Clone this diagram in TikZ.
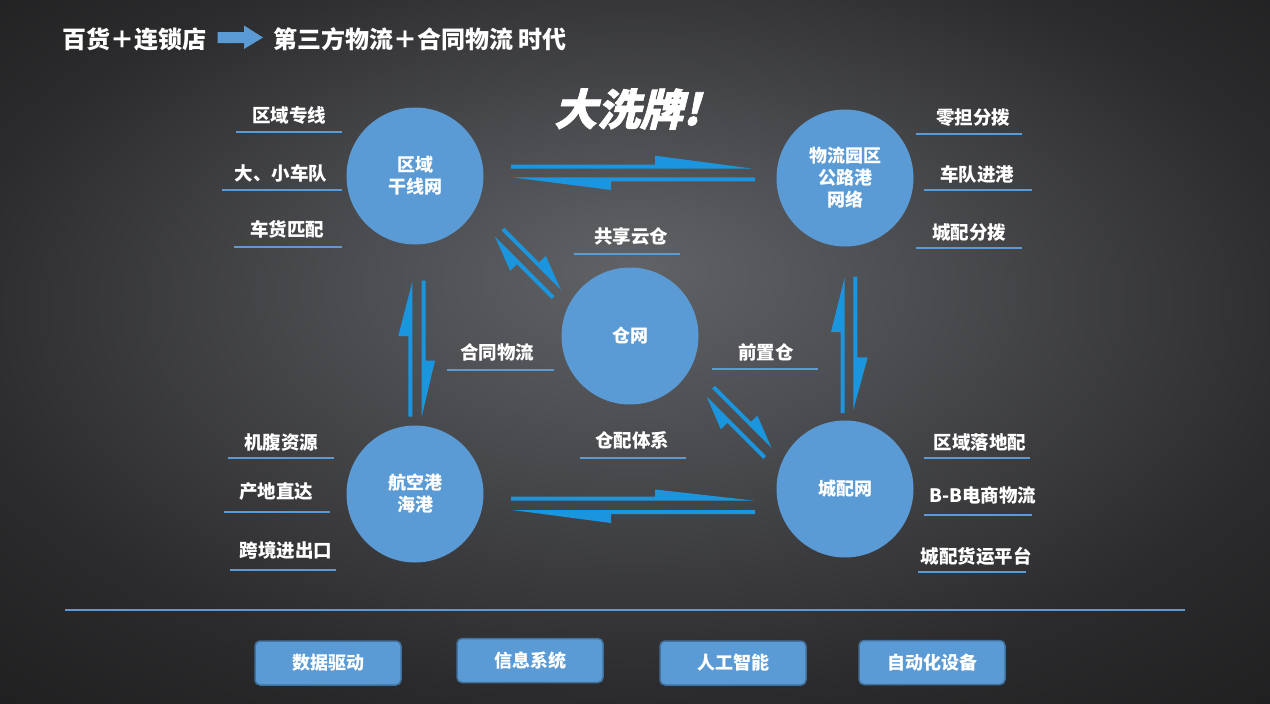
\documentclass[tikz,border=0pt]{standalone}
\usepackage{fontspec}
\newfontfamily\cjk{Noto Sans CJK SC}
\newfontfamily\brush{Noto Sans CJK SC}[FakeSlant=0.25,FakeBold=1.5]
\definecolor{circ}{HTML}{5B9BD5}
\definecolor{arr}{HTML}{1B96DE}
\definecolor{boxedge}{HTML}{41719C}
\definecolor{bgA}{HTML}{606266}
\definecolor{bgB}{HTML}{4A4B4E}
\definecolor{bgC}{HTML}{2B2B2D}
\definecolor{bgD}{HTML}{1C1C1D}
\definecolor{bgE}{HTML}{171718}
\pgfdeclareradialshading{bgshade}{\pgfpoint{0bp}{6bp}}{color(0bp)=(bgA); color(12bp)=(bgB); color(27bp)=(bgC); color(40bp)=(bgD); color(50bp)=(bgE)}
\tikzset{
  hub/.style={circle,fill=circ,minimum size=137pt,inner sep=0pt,text=white,align=center,font=\cjk\bfseries\fontsize{18}{22}\selectfont},
  lab/.style={text=white,inner sep=0pt,font=\cjk\bfseries\fontsize{18.5}{20}\selectfont},
  uline/.style={draw=circ,line width=1.6pt},
  harp/.style={fill=arr},
  tag/.style={rounded corners=5pt,fill=circ,draw=boxedge,line width=1.5pt,minimum width=146pt,minimum height=44pt,inner sep=0pt,text=white,font=\cjk\bfseries\fontsize{18}{20}\selectfont},
  ttl/.style={text=white,inner sep=0pt,anchor=west,font=\cjk\bfseries\fontsize{24}{26}\selectfont}
}
\begin{document}
\begin{tikzpicture}[x=1pt,y=-1pt]
\useasboundingbox (0,0) rectangle (1270,704);
\shade[shading=bgshade] (0,0) rectangle (1270,704);

% title
\node[ttl] (t1) at (62,39) {百货＋连锁店};
\fill[circ] (217.5,32) -- (244,32) -- (244,25.5) -- (263,37.5) -- (244,49) -- (244,43) -- (217.5,43) -- cycle;
\node[ttl] (t2) at (273,39) {第三方物流＋合同物流 时代};

\node[text=white,inner sep=0pt,font=\brush\bfseries\fontsize{43}{44}\selectfont] (shuffle) at (627,109) {大洗牌!};

% hubs
\node[hub] (c1) at (415,176) {区域\\干线网};
\node[hub] (c2) at (845,178) {物流园区\\公路港\\网络};
\node[hub] (c3) at (630,336) {仓网};
\node[hub] (c4) at (415,494) {航空港\\海港};
\node[hub] (c5) at (845,489) {城配网};

% harpoon arrows: top pair
\fill[harp] (511,164.7) -- (655,164.7) -- (655,155.7) -- (753,168.7) -- (511,168.7) -- cycle;
\fill[harp] (755,177.3) -- (755,181.3) -- (611,181.3) -- (611,190) -- (512,177.3) -- cycle;
% bottom pair
\fill[harp] (511,496.5) -- (655,496.5) -- (655,489.5) -- (753,500.5) -- (511,500.5) -- cycle;
\fill[harp] (755,510) -- (755,514) -- (611,514) -- (611,523) -- (512,510) -- cycle;
% left vertical pair
\fill[harp] (408.3,416.7) -- (412.3,416.7) -- (412.3,281.7) -- (398.3,336) -- (408.3,336) -- cycle;
\fill[harp] (421.7,280.7) -- (425.7,280.7) -- (425.7,360.7) -- (435,360.7) -- (421.7,416.7) -- cycle;
% right vertical pair
\fill[harp] (840.7,413) -- (844.7,413) -- (844.7,277.3) -- (831,332) -- (840.7,332) -- cycle;
\fill[harp] (853.3,276.7) -- (857.3,276.7) -- (857.3,357.3) -- (867.7,357.3) -- (853.3,410) -- cycle;
% upper-left diagonal pair
\fill[harp] (501.6,230.6) -- (504.4,227.8) -- (539.1,262.4) -- (545.7,255.8) -- (561,290) -- cycle;
\fill[harp] (554.4,296.1) -- (551.6,298.9) -- (516.9,264.3) -- (510.3,270.9) -- (495,236.7) -- cycle;
% lower-right diagonal pair
\fill[harp] (712.1,388.6) -- (714.9,385.8) -- (751.0,421.8) -- (757.4,415.5) -- (771.5,448) -- cycle;
\fill[harp] (766.1,456.1) -- (763.3,458.9) -- (727.2,422.9) -- (720.8,429.2) -- (706.7,396.7) -- cycle;

% labels with underlines
\node[lab] (l1) at (289,115) {区域专线};
\draw[uline] (236,132) -- (342,132);
\node[lab] (l2) at (281,173) {大、小车队};
\draw[uline] (222,190) -- (342,190);
\node[lab] (l3) at (287,229) {车货匹配};
\draw[uline] (234,247) -- (342,247);

\node[lab] (r1) at (973,118) {零担分拨};
\draw[uline] (916,134) -- (1022,134);
\node[lab] (r2) at (977,174) {车队进港};
\draw[uline] (924,190) -- (1032,190);
\node[lab] (r3) at (969,232) {城配分拨};
\draw[uline] (916,248) -- (1022,248);

\node[lab] (m1) at (631,236) {共享云仓};
\draw[uline] (574,254) -- (680,254);
\node[lab] (m2) at (497,352) {合同物流};
\draw[uline] (447,370) -- (554,370);
\node[lab] (m3) at (766,352) {前置仓};
\draw[uline] (712,369) -- (818,369);
\node[lab] (m4) at (632,440) {仓配体系};
\draw[uline] (580,458) -- (686,458);

\node[lab] (b1) at (281,442) {机腹资源};
\draw[uline] (228,458) -- (334,458);
\node[lab] (b2) at (276,492) {产地直达};
\draw[uline] (224,512) -- (330,512);
\node[lab] (b3) at (286,550) {跨境进出口};
\draw[uline] (230,570) -- (336,570);

\node[lab] (s1) at (980,442) {区域落地配};
\draw[uline] (924,458) -- (1030,458);
\node[lab] (s2) at (983,495) {B-B电商物流};
\draw[uline] (924,515) -- (1032,515);
\node[lab] (s3) at (976,556) {城配货运平台};
\draw[uline] (918,572) -- (1026,572);

% separator
\draw[draw=circ,line width=2pt] (65,610) -- (1185,610);

% bottom tags
\node[tag] (k1) at (328,663) {数据驱动};
\node[tag] (k2) at (530,660.5) {信息系统};
\node[tag] (k3) at (733,663) {人工智能};
\node[tag] (k4) at (932,662.5) {自动化设备};
\end{tikzpicture}
\end{document}
